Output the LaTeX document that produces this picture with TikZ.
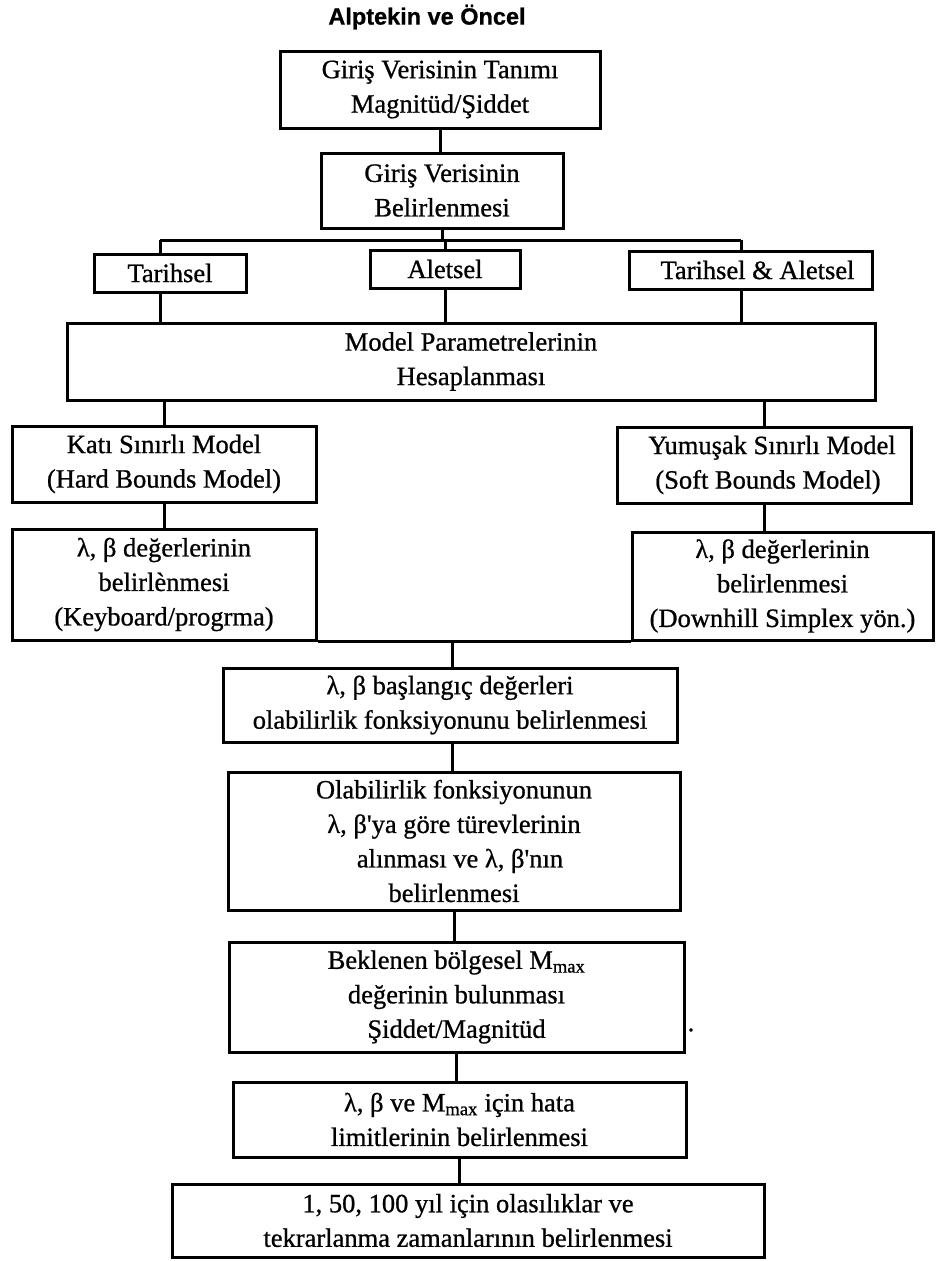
\documentclass[tikz,border=0pt]{standalone}
\usepackage{fontspec}
\setmainfont{Liberation Serif}[FakeBold=0.8]
\newfontfamily\titlefont{Liberation Sans Bold}[FakeBold=0.8]
\newcommand{\apos}{\textquotesingle}
\begin{document}
\begin{tikzpicture}[x=1pt,y=-1pt,
  box/.style={draw=black, line width=3pt, inner sep=0pt, align=center,
    font=\fontsize{26.5}{34.5}\selectfont},
  conn/.style={draw=black, line width=3pt}]
\useasboundingbox (0,0) rectangle (935,1261);
\node[font=\titlefont\fontsize{23.5}{27}\selectfont] (title) at (427,17) {Alptekin ve Öncel};

\node[box, minimum width=320, minimum height=77] (b1) at (440,89.5) {Giriş Verisinin Tanımı\\Magnitüd/Şiddet};
\node[box, minimum width=242, minimum height=75] (b2) at (442,190.5) {Giriş Verisinin\\Belirlenmesi};

\node[box, minimum width=152, minimum height=38] (t1) at (170,273) {Tarihsel};
\node[box, minimum width=150, minimum height=38] (t2) at (445,269) {Aletsel};
\node[box, minimum width=243, minimum height=38] (t3) at (750.5,270) {\hspace{14pt}Tarihsel \& Aletsel};

\node[box, minimum width=808, minimum height=77] (model) at (471,361.5) {Model Parametrelerinin\\Hesaplanması};

\node[box, minimum width=304, minimum height=76] (kati) at (164,464) {Katı Sınırlı Model\\(Hard Bounds Model)};
\node[box, minimum width=294, minimum height=76] (yum) at (764,465) {\hspace{16pt}Yumuşak Sınırlı Model\\\hspace{8pt}(Soft Bounds Model)};

\node[box, minimum width=304, minimum height=111] (lamL) at (164,584.5) {λ, β değerlerinin\\belirlènmesi\\(Keyboard/progrma)};
\node[box, minimum width=301, minimum height=108] (lamR) at (782.5,586) {λ, β değerlerinin\\belirlenmesi\\(Downhill Simplex yön.)};

\node[box, minimum width=454, minimum height=74] (bas) at (450,705) {λ, β başlangıç değerleri\\olabilirlik fonksiyonunu belirlenmesi};
\node[box, minimum width=452, minimum height=138] (olab) at (454,841) {Olabilirlik fonksiyonunun\\λ, β\apos ya göre türevlerinin\\\hspace{12pt}alınması ve λ, β\apos nın\\belirlenmesi};
\node[box, minimum width=455, minimum height=110] (bek) at (456.5,997) {Beklenen bölgesel M\textsubscript{max}\\değerinin bulunması\\Şiddet/Magnitüd};
\node[font=\fontsize{26.5}{34.5}\selectfont, inner sep=0pt] (dot) at (691,1030) {.};
\node[box, minimum width=453, minimum height=75] (lbm) at (459.5,1119.5) {λ, β ve M\textsubscript{max} için hata\\limitlerinin belirlenmesi};
\node[box, minimum width=592, minimum height=73] (fin) at (468,1220.5) {1, 50, 100 yıl için olasılıklar ve\\tekrarlanma zamanlarının belirlenmesi};

\coordinate (busL) at (160,240);
\coordinate (busR) at (741,240);
\coordinate (mid) at (452,640);

\draw[conn] (b1.south) -- (b1.south |- b2.north);
\draw[conn] (b2.south) -- (b2.south |- busL);
\draw[conn] (busL) -- (busR);
\draw[conn] (busL) -- (busL |- t1.north);
\draw[conn] (t2.north |- busL) -- (t2.north);
\draw[conn] (busR) -- (busR |- t3.north);
\draw[conn] (busL |- t1.south) -- (busL |- model.north);
\draw[conn] (t2.south) -- (t2.south |- model.north);
\draw[conn] (busR |- t3.south) -- (busR |- model.north);
\draw[conn] (model.south -| kati.north) -- (kati.north);
\draw[conn] (model.south -| yum.north) -- (yum.north);
\draw[conn] (kati.south) -- (kati.south |- lamL.north);
\draw[conn] (yum.south) -- (yum.south |- lamR.north);
\draw[conn] (lamL.south east) -- (lamR.south west);
\draw[conn] (mid) -- (mid |- bas.north);
\draw[conn] (bas.south -| mid) -- (mid |- olab.north);
\draw[conn] (olab.south) -- (olab.south |- bek.north);
\draw[conn] (bek.south) -- (bek.south |- lbm.north);
\draw[conn] (lbm.south) -- (lbm.south |- fin.north);
\end{tikzpicture}
\end{document}
